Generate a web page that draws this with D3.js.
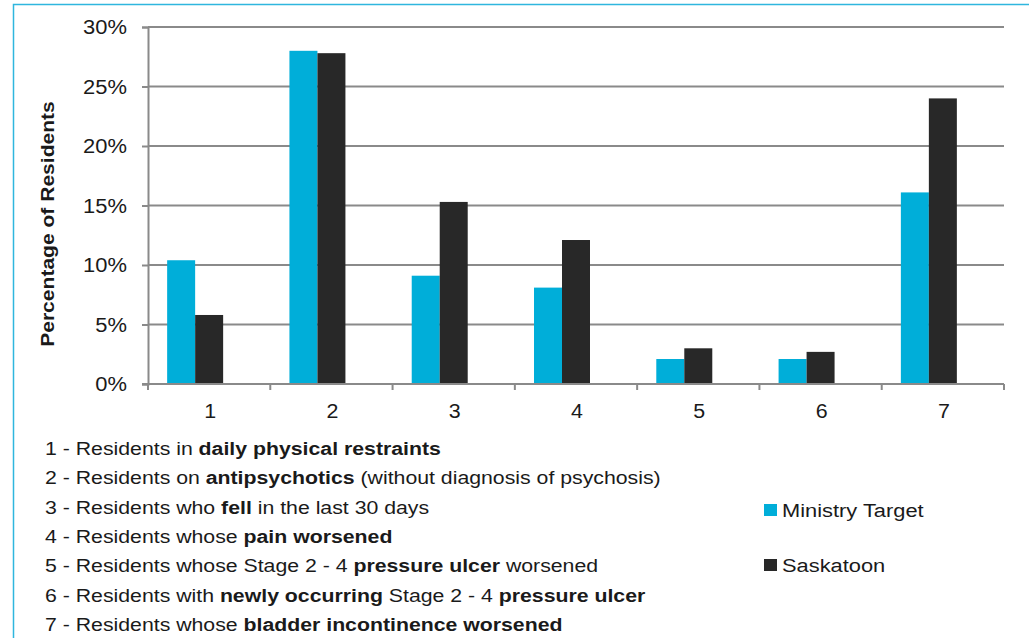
<!DOCTYPE html>
<html>
<head>
<meta charset="utf-8">
<script src="https://cdn.jsdelivr.net/npm/d3@7"></script>
<style>
  body { margin: 0; background: #fff; }
  svg { display: block; font-family: "Liberation Sans", Arial, Helvetica, sans-serif; }
</style>
</head>
<body>
<svg width="1029" height="638"></svg>
<script>
// chart values
const categories = ['1', '2', '3', '4', '5', '6', '7']
const seriesNames = ['Ministry Target', 'Saskatoon']
const ministryTarget = [0.104, 0.28, 0.091, 0.081, 0.021, 0.021, 0.161]
const saskatoon = [0.058, 0.278, 0.153, 0.121, 0.03, 0.027, 0.24]
const yTicks = [0, 0.05, 0.10, 0.15, 0.20, 0.25, 0.30]
const colors = ['#00aed9', '#282828']

// footnote lines: [text, bold?]
const notes = [
  [['1 - Residents in ', false], ['daily physical restraints', true]],
  [['2 - Residents on ', false], ['antipsychotics', true], [' (without diagnosis of psychosis)', false]],
  [['3 - Residents who ', false], ['fell', true], [' in the last 30 days', false]],
  [['4 - Residents whose ', false], ['pain worsened', true]],
  [['5 - Residents whose Stage 2 - 4 ', false], ['pressure ulcer', true], [' worsened', false]],
  [['6 - Residents with ', false], ['newly occurring', true], [' Stage 2 - 4 ', false], ['pressure ulcer', true]],
  [['7 - Residents whose ', false], ['bladder incontinence worsened', true]]
]

const svg = d3.select('svg')
const margin = {top: 27, right: 25, bottom: 254, left: 148}
const width = +svg.attr('width')
const height = +svg.attr('height')
const plotRight = width - margin.right
const plotBottom = height - margin.bottom
const ink = '#1a1a1a'
const grid = '#8a8a8a'

// the source font is wider than Arial, so stretch text sideways
function wideText(parent, x, y, sx) {
  return parent.append('text')
    .attr('transform', `translate(${x},${y}) scale(${sx},1)`)
    .attr('fill', ink)
}

// outer frame
svg.append('rect')
  .attr('x', 13.5).attr('y', 4.5)
  .attr('width', 1100).attr('height', 700)
  .attr('fill', 'none')
  .attr('stroke', '#2fb6de')
  .attr('stroke-width', 1.5)

const x0 = d3.scaleBand()
  .domain(categories)
  .range([margin.left, plotRight])

// third empty slot: excel leaves room for a hidden series
const x1 = d3.scaleBand()
  .domain([...seriesNames, ''])
  .range([0, x0.bandwidth()])
  .paddingOuter(0.684)

const y = d3.scaleLinear()
  .domain([0, 0.30])
  .range([plotBottom, margin.top])

// gridlines
svg.append('g')
  .selectAll('line')
  .data(yTicks.slice(1))
  .join('line')
  .attr('x1', margin.left).attr('x2', plotRight)
  .attr('y1', d => y(d)).attr('y2', d => y(d))
  .attr('stroke', grid)
  .attr('stroke-width', 2)

// y axis
const yAxis = svg.append('g')
  .attr('transform', `translate(${margin.left},0)`)
  .call(d3.axisLeft(y).tickValues(yTicks).tickFormat('').tickSize(6))
yAxis.select('.domain').attr('stroke', grid).attr('stroke-width', 2)
yAxis.selectAll('.tick line').attr('stroke', grid).attr('stroke-width', 2)
const pct = d3.format('.0%')
yTicks.forEach(t => {
  wideText(svg, margin.left - 21, y(t) + 7.3, 1.07)
    .attr('text-anchor', 'end')
    .attr('font-size', 20.5)
    .text(pct(t))
})

// bars
const rows = categories.map((c, i) => ({cat: c, values: [ministryTarget[i], saskatoon[i]]}))
svg.append('g')
  .selectAll('g')
  .data(rows)
  .join('g')
  .attr('transform', d => `translate(${x0(d.cat)},0)`)
  .selectAll('rect')
  .data(d => d.values.map((v, k) => ({name: seriesNames[k], value: v, k: k})))
  .join('rect')
  .attr('x', d => x1(d.name))
  .attr('y', d => y(d.value))
  .attr('width', x1.bandwidth())
  .attr('height', d => y(0) - y(d.value))
  .attr('fill', d => colors[d.k])

// x axis: ticks at category boundaries
const xAxis = svg.append('g')
svg.append('line')
  .attr('x1', margin.left - 6).attr('x2', plotRight)
  .attr('y1', y(0)).attr('y2', y(0))
  .attr('stroke', grid).attr('stroke-width', 2)
const bounds = categories.map(c => x0(c)).concat([plotRight])
xAxis.selectAll('line')
  .data(bounds)
  .join('line')
  .attr('x1', d => d).attr('x2', d => d)
  .attr('y1', y(0)).attr('y2', y(0) + 6)
  .attr('stroke', grid).attr('stroke-width', 2)
categories.forEach(c => {
  wideText(xAxis, x0(c) + x0.bandwidth() / 2 + 1, y(0) + 34, 1.07)
    .attr('text-anchor', 'middle')
    .attr('font-size', 20)
    .text(c)
})

// y title
svg.append('text')
  .attr('transform', `translate(54, 224) rotate(-90) scale(1.17,1)`)
  .attr('text-anchor', 'middle')
  .attr('font-size', 18)
  .attr('font-weight', 'bold')
  .attr('fill', ink)
  .text('Percentage of Residents')

// footnotes
const noteGroup = svg.append('g')
notes.forEach((line, i) => {
  wideText(noteGroup, 45, 455 + i * 29.3, 1.15)
    .attr('font-size', 18.5)
    .selectAll('tspan')
    .data(line)
    .join('tspan')
    .attr('font-weight', d => d[1] ? 'bold' : 'normal')
    .text(d => d[0])
})

// legend
const legend = svg.append('g')
  .selectAll('g')
  .data(seriesNames)
  .join('g')
  .attr('transform', (_, i) => `translate(764, ${504 + i * 55})`)
legend.append('rect')
  .attr('width', 13).attr('height', 12)
  .attr('fill', (_, i) => colors[i])
legend.each(function(d) {
  wideText(d3.select(this), 18, 12.5, 1.15)
    .attr('font-size', 19)
    .text(d)
})
</script>
</body>
</html>
